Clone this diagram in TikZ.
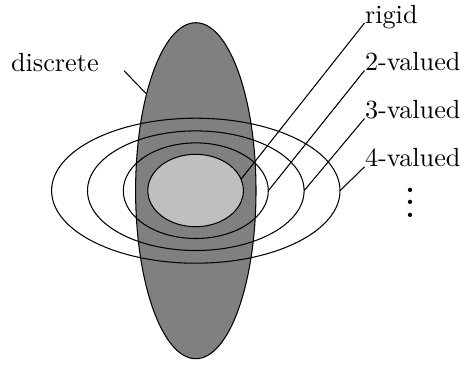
\documentclass[tikz,border=0pt]{standalone}
\usetikzlibrary{shapes.geometric}
\begin{document}
\begin{tikzpicture}[x=0.38095pt,y=-0.38095pt,
  ring/.style={ellipse,draw,inner sep=0pt,outer sep=0pt},
  lab/.style={inner sep=0pt,anchor=base west},
  lead/.style={draw,line width=0.4pt}]
\useasboundingbox (0,0) rectangle (464,364);
% vertical dark ellipse
\node[ring,fill=black!50,minimum width=45.87pt,minimum height=128pt] (V) at (195.8,190.7) {};
% rings
\node[ring,minimum width=109.87pt,minimum height=55.24pt] (E4) at (195.8,190.7) {};
\node[ring,minimum width=82.51pt,minimum height=45.56pt] (E3) at (195.8,190.7) {};
\node[ring,minimum width=55.24pt,minimum height=36.42pt] (E2) at (195.8,190.7) {};
\node[ring,fill=black!25,minimum width=36.42pt,minimum height=27.58pt] (R) at (195.6,190.5) {};
% labels
\node[lab] (rigid) at (364.5,23) {rigid};
\node[lab] (two) at (364.5,70.5) {2-valued};
\node[lab] (three) at (364.5,118.5) {3-valued};
\node[lab] (four) at (364.5,166.8) {4-valued};
\node[lab] (disc) at (10.5,71.5) {discrete};
\node[inner sep=0pt,anchor=base,scale=1.17] (dots) at (410.7,217.1) {\Large$\vdots$};
% leaders
\coordinate (dstart) at (124,70.7);
\draw[lead] (rigid.base west) -- (R.14);
\draw[lead] (two.base west) -- (E2.east);
\draw[lead] (three.base west) -- (E3.east);
\draw[lead] (four.base west) -- (E4.east);
\draw[lead] (dstart) -- (V.117);
\end{tikzpicture}
\end{document}
